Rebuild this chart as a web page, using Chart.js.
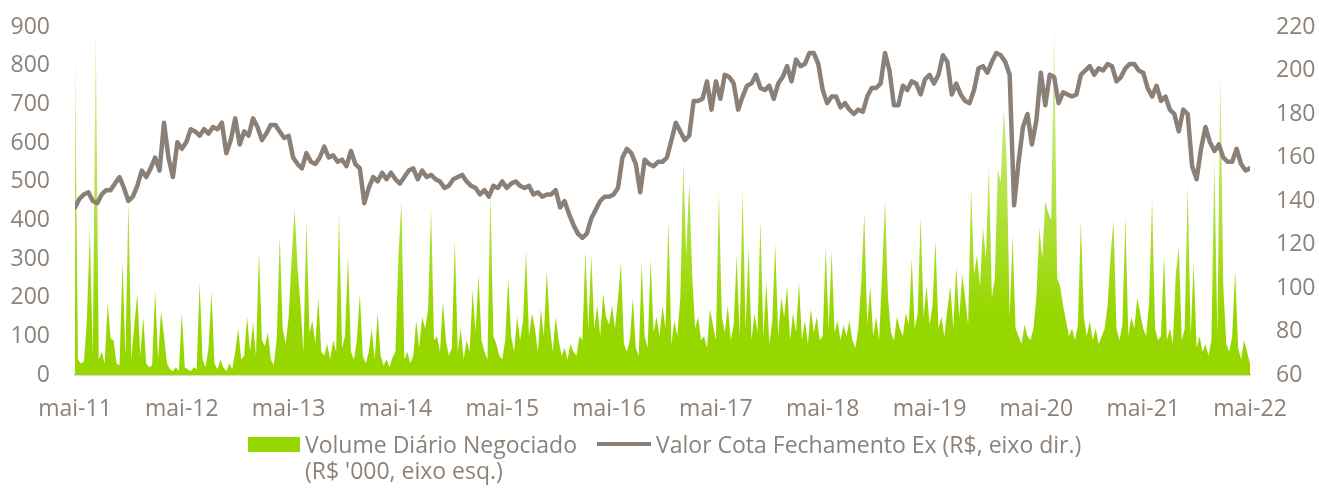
<!DOCTYPE html>
<html>
<head>
<meta charset="utf-8">
<script src="https://cdn.jsdelivr.net/npm/chart.js@4.4.1/dist/chart.umd.min.js"></script>
<style>
  body { margin: 0; background: #fff; }
  #wrap { position: relative; width: 1319px; height: 490px; font-family: 'Open Sans', sans-serif; color: #8c8279; }
  #box { position: absolute; left: 0; top: 0; width: 1319px; height: 430px; }
  .leg { position: absolute; font-size: 23px; line-height: 26px; white-space: nowrap; }
</style>
</head>
<body>
<div id="wrap">
  <div id="box"><canvas id="chart"></canvas></div>
  <div class="leg" style="left:248px;top:437px;width:52px;height:15px;background:#97d700"></div>
  <div class="leg" style="left:305px;top:431px">Volume Diário Negociado<br>(R$ '000, eixo esq.)</div>
  <div class="leg" style="left:597px;top:442px;width:54px;height:4px;background:#8a8078"></div>
  <div class="leg" style="left:656px;top:431px">Valor Cota Fechamento Ex (R$, eixo dir.)</div>
</div>
<script>
// x axis labels, one per year (May)
const yearLabels = ['mai-11', 'mai-12', 'mai-13', 'mai-14', 'mai-15', 'mai-16',
                    'mai-17', 'mai-18', 'mai-19', 'mai-20', 'mai-21', 'mai-22'];

// closing price (R$), two readings per month from mai-11 to mai-22
const priceValues = [
  137,141,143,144,140,139,143,145,145,148,151,146,140,142,147,154,151,155,160,154,176,160,151,167,164,167,173,172,170,173,171,174,173,176,162,168,178,166,172,170,178,174,168,171,175,
  175,172,169,170,160,157,155,162,158,157,160,165,160,161,158,159,156,163,157,155,139,146,151,149,153,150,153,150,148,151,154,155,150,154,151,152,150,149,146,147,150,151,152,149,
  147,146,143,145,142,147,146,149,146,148,149,147,146,147,143,144,142,143,143,145,137,140,134,129,125,123,125,132,136,140,142,142,143,146,160,164,162,157,144,159,157,156,158,158,
  160,168,176,172,168,170,186,186,187,195,182,195,187,198,197,194,182,188,193,194,198,192,191,193,187,194,197,202,195,205,202,203,208,208,203,191,185,188,188,183,185,182,180,
  182,181,188,192,192,194,208,200,184,184,193,191,195,194,189,196,198,194,198,207,204,189,194,189,186,185,191,201,202,199,204,208,207,204,198,138,158,174,180,166,177,199,184,198,
  197,185,190,189,188,189,198,200,202,198,201,200,203,202,195,197,201,203,203,200,199,192,188,193,186,188,182,180,172,182,180,156,150,164,174,167,163,166,160,158,158,164,157,154,155
];

// daily traded volume (R$ '000), three readings per month
const volumeValues = [
  850,40,30,35,140,380,50,900,40,60,30,185,95,90,30,25,290,50,450,40,130,210,50,150,30,20,25,220,40,165,100,30,15,10,20,10,
  160,20,15,10,20,15,238,40,20,70,215,30,15,40,20,10,30,15,60,120,40,50,150,60,135,50,320,90,75,110,40,25,95,360,120,80,
  150,300,430,280,180,60,400,110,140,80,200,60,50,80,40,90,60,420,70,100,310,60,40,90,210,50,30,60,120,40,160,50,25,40,20,45,
  60,305,450,40,60,30,50,140,70,150,120,170,430,90,100,60,190,90,50,70,350,60,120,40,90,60,220,110,260,90,60,40,470,100,80,50,
  40,90,250,100,60,150,90,140,320,100,160,120,60,170,100,270,130,60,150,90,50,70,40,80,60,50,100,90,320,120,310,120,180,100,210,150,
  130,180,120,200,290,80,60,90,200,70,50,290,100,70,300,110,150,100,180,120,400,80,140,100,200,550,310,500,260,120,150,90,100,70,170,130,
  90,470,150,110,180,90,130,310,100,480,120,330,90,160,110,400,100,240,80,140,340,100,200,150,230,90,160,110,240,90,140,80,170,110,150,90,
  100,330,120,320,110,140,90,130,100,140,90,70,120,240,420,130,230,100,150,90,260,450,200,110,90,150,120,100,160,130,300,120,160,410,150,230,
  130,180,350,120,150,100,170,230,120,280,150,260,200,130,485,260,310,230,380,300,540,200,250,530,500,690,560,150,360,120,100,80,130,100,90,120,
  200,380,300,450,420,400,900,250,230,180,140,100,120,90,130,400,150,100,140,90,120,80,100,120,180,310,400,120,90,130,410,100,150,120,200,160,
  120,100,190,460,120,90,100,310,90,120,80,260,330,90,120,490,100,290,70,100,60,80,50,90,560,100,780,230,80,60,100,270,70,40,90,60,30
];

const txt = '#8c8279';
const font = { family: "'Open Sans', sans-serif", size: 23 };

// x is months since mai-11
const pricePoints = priceValues.map((v, i) => ({ x: i / 2, y: v }));
const volumePoints = volumeValues.map((v, i) => ({ x: i / 3, y: v }));

// thin volume spikes fade out towards the top, like in the original
function volumeFill(ctx) {
  const area = ctx.chart.chartArea;
  if (!area) return '#97d700';
  const g = ctx.chart.ctx.createLinearGradient(0, area.bottom, 0, area.top);
  g.addColorStop(0, '#97d700');
  g.addColorStop(0.18, '#97d700');
  g.addColorStop(1, 'rgba(151, 215, 0, 0.3)');
  return g;
}

// fixed axis widths; keep only half a label of room above/below the plot
function fitY(width) {
  return s => {
    s.width = width;
    s.paddingTop = 14;
    s.paddingBottom = 14;
  };
}

new Chart(document.getElementById('chart'), {
  type: 'line',
  data: {
    datasets: [
      {
        label: 'Valor Cota Fechamento Ex (R$, eixo dir.)',
        data: pricePoints,
        yAxisID: 'y1',
        borderColor: '#8a8078',
        borderWidth: 4.5,
        borderJoinStyle: 'round',
        borderCapStyle: 'round',
        pointRadius: 0,
        fill: false,
        order: 0
      },
      {
        label: "Volume Diário Negociado (R$ '000, eixo esq.)",
        data: volumePoints,
        yAxisID: 'y',
        borderWidth: 0,
        backgroundColor: volumeFill,
        pointRadius: 0,
        fill: 'origin',
        order: 1
      }
    ]
  },
  options: {
    responsive: true,
    maintainAspectRatio: false,
    animation: false,
    layout: { padding: { top: 27, left: 0, right: 0, bottom: 0 } },
    plugins: { legend: { display: false }, tooltip: { enabled: false } },
    scales: {
      x: {
        type: 'linear',
        min: 0,
        max: 132,
        afterFit: s => { s.height = 55; },
        grid: { display: false, drawTicks: false },
        border: { display: true, color: '#bcb6b1', width: 1.5 },
        ticks: {
          stepSize: 12,
          autoSkip: false,
          maxRotation: 0,
          padding: 21,
          color: txt,
          font: font,
          callback: v => yearLabels[v / 12]
        }
      },
      y: {
        position: 'left',
        min: 0,
        max: 900,
        afterFit: fitY(75),
        grid: { display: false, drawTicks: false },
        border: { display: false },
        ticks: { stepSize: 100, padding: 25, color: txt, font: font }
      },
      y1: {
        position: 'right',
        min: 60,
        max: 220,
        afterFit: fitY(69),
        grid: { display: false, drawTicks: false },
        border: { display: false },
        ticks: { stepSize: 20, padding: 26, color: txt, font: font }
      }
    }
  }
});
</script>
</body>
</html>
